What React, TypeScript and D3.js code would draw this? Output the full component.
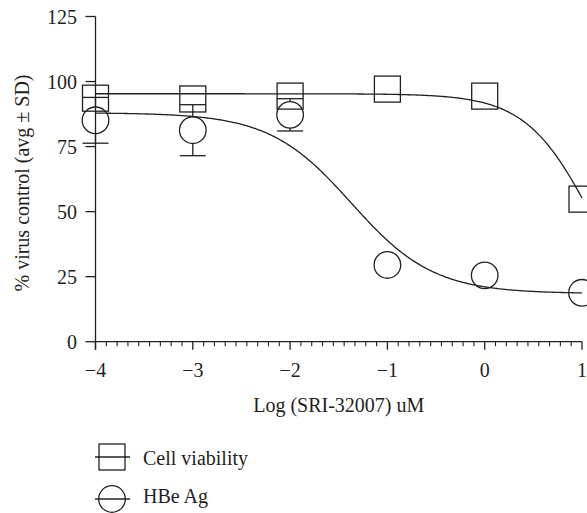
import React from "react";
import * as d3 from "d3";

// ---- data ----
const logConc = [-4, -3, -2, -1, 0, 1];
const cellViability = [93.6, 93.3, 94.4, 97.1, 94.4, 54.8];
const cellViabilitySD = [3, 3, 4.6, 2, 2, 3];
const hbeAg = [85.1, 81.3, 87.2, 29.5, 25.5, 18.8];
const hbeAgSD = [8.8, 9.8, 6.2, 3, 3, 2];
// 4-parameter logistic fits: [bottom, top, logEC50, hill]
const cellFit = [0, 95.3, 1.11, 1.27];
const hbeFit = [18.5, 88, -1.37, 1.03];
const xTicks = [-4, -3, -2, -1, 0, 1];
const yTicks = [0, 25, 50, 75, 100, 125];
const xTitle = "Log (SRI-32007) uM";
const yTitle = "% virus control (avg \u00b1 SD)";
const legendLabels = ["Cell viability", "HBe Ag"];

const W = 587;
const H = 513;
const INK = "#231f20";
const FONT = "'Liberation Serif', 'DejaVu Serif', serif";

const x = d3.scaleLinear().domain([-4, 1]).range([95.5, 582]);
const y = d3.scaleLinear().domain([0, 125]).range([341.7, 16.5]);

function logistic(p: number[], v: number) {
  const [b, t, c, h] = p;
  return b + (t - b) / (1 + Math.pow(10, h * (v - c)));
}

function curvePath(p: number[]) {
  const pts = d3.range(0, 401).map((i) => -4 + (5 * i) / 400);
  const line = d3
    .line<number>()
    .x((v) => x(v))
    .y((v) => y(logistic(p, v)));
  return line(pts) || "";
}

const fmt = (v: number) => (v < 0 ? "\u2212" + Math.abs(v) : String(v));

export default function App() {
  const S = 13; // half marker size
  const minor: number[] = [];
  for (let i = 0; i < 5; i++) {
    for (let k = 1; k < 9; k++) minor.push(-4 + i + k / 9);
  }

  const errorBars = (vals: number[], sds: number[]) =>
    logConc.map((c, i) => {
      const px = x(c);
      const py = y(vals[i]);
      const d = y(vals[i] - sds[i]) - py;
      if (d <= S) return null;
      return (
        <g key={i}>
          <line x1={px} x2={px} y1={py - S} y2={py - d} />
          <line x1={px - S} x2={px + S} y1={py - d} y2={py - d} />
          <line x1={px} x2={px} y1={py + S} y2={py + d} />
          <line x1={px - S} x2={px + S} y1={py + d} y2={py + d} />
        </g>
      );
    });

  return (
    <svg
      width={W}
      height={H}
      style={{ position: "absolute", left: 0, top: 0, background: "#fff", fontFamily: FONT }}
    >
      <g stroke={INK} strokeWidth={1.3} fill="none">
        {/* axes */}
        <line x1={x(-4)} x2={x(-4)} y1={y(125)} y2={y(0) + 8} />
        <line x1={x(-4)} x2={x(1)} y1={y(0)} y2={y(0)} />
        {yTicks.map((t) => (
          <line key={"yt" + t} x1={x(-4) - 10} x2={x(-4)} y1={y(t)} y2={y(t)} />
        ))}
        {xTicks.map((t) => (
          <line key={"xt" + t} x1={x(t)} x2={x(t)} y1={y(0)} y2={y(0) + 8} />
        ))}
        {minor.map((t, i) => (
          <line key={"mt" + i} x1={x(t)} x2={x(t)} y1={y(0)} y2={y(0) + 4.5} strokeWidth={1.1} />
        ))}

        {/* error bars */}
        {errorBars(cellViability, cellViabilitySD)}
        {errorBars(hbeAg, hbeAgSD)}

        {/* markers */}
        {logConc.map((c, i) => (
          <rect key={"sq" + i} x={x(c) - S} y={y(cellViability[i]) - S} width={2 * S} height={2 * S} />
        ))}
        {logConc.map((c, i) => (
          <circle key={"ci" + i} cx={x(c)} cy={y(hbeAg[i])} r={13.3} />
        ))}

        {/* fitted curves */}
        <path d={curvePath(cellFit)} />
        <path d={curvePath(hbeFit)} />

        {/* legend symbols */}
        <line x1={95} x2={130} y1={457} y2={457} />
        <rect x={112 - S} y={457 - S} width={2 * S} height={2 * S} />
        <line x1={95} x2={130} y1={499} y2={499} />
        <circle cx={112} cy={499} r={13.3} />
      </g>

      <g fill={INK} style={{ fontSize: "20px", fontFamily: FONT }}>
        {yTicks.map((t) => (
          <text key={"yl" + t} x={77} y={y(t)} dy="0.35em" textAnchor="end">
            {t}
          </text>
        ))}
        {xTicks.map((t) => (
          <text key={"xl" + t} x={x(t)} y={376.5} textAnchor="middle">
            {fmt(t)}
          </text>
        ))}
        <text x={(x(-4) + x(1)) / 2} y={411.5} textAnchor="middle">
          {xTitle}
        </text>
        <text transform="translate(29,183) rotate(-90)" textAnchor="middle">
          {yTitle}
        </text>
        <text x={143} y={465}>{legendLabels[0]}</text>
        <text x={143} y={503}>{legendLabels[1]}</text>
      </g>
    </svg>
  );
}
